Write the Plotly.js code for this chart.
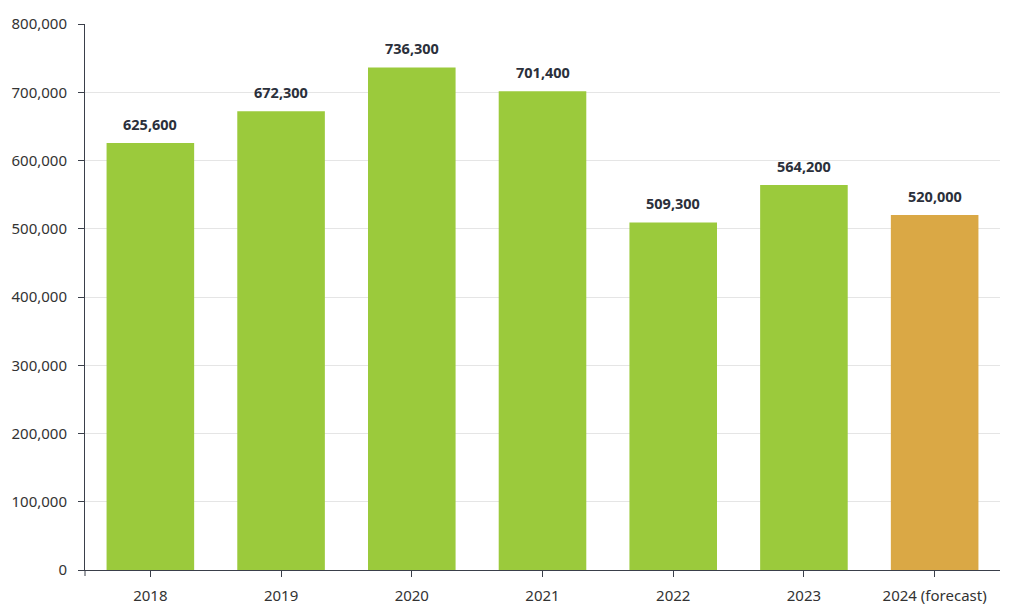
<!DOCTYPE html>
<html>
<head>
<meta charset="utf-8">
<script src="https://cdn.plot.ly/plotly-3.0.1.min.js"></script>
<style>html,body{margin:0;padding:0;background:#fff;}#chart{width:1024px;height:610px;}</style>
</head>
<body>
<div id="chart"></div>
<script>
const years = ["2018", "2019", "2020", "2021", "2022", "2023", "2024 (forecast)"];
const values = [625600, 672300, 736300, 701400, 509300, 564200, 520000];
const barColors = ["#9bca3c", "#9bca3c", "#9bca3c", "#9bca3c", "#9bca3c", "#9bca3c", "#daa845"];
const yTicks = [0, 100000, 200000, 300000, 400000, 500000, 600000, 700000, 800000];

const fontFam = "'Noto Sans', 'Open Sans', sans-serif";

const trace = {
  type: "bar",
  x: years,
  y: values,
  marker: {color: barColors, line: {width: 0}},
  hoverinfo: "x+y"
};

const annotations = years.map((yr, i) => ({
  x: i, y: values[i], xref: "x", yref: "y",
  text: "<b>" + values[i].toLocaleString("en-US") + "</b>",
  showarrow: false, yanchor: "bottom", yshift: 7,
  font: {family: fontFam, size: 14.5, color: "#2b303b"}
}));

const layout = {
  width: 1024, height: 610,
  margin: {l: 85, r: 24, t: 24, b: 40},
  paper_bgcolor: "#fff", plot_bgcolor: "#fff",
  bargap: 0.33,
  showlegend: false,
  font: {family: fontFam, size: 15, color: "#333"},
  xaxis: {
    type: "category",
    range: [-0.5, years.length - 0.5],
    showline: true, linecolor: "#3a3f4a", linewidth: 1,
    ticks: "outside", ticklen: 6, tickcolor: "#3a3f4a",
    ticklabelstandoff: 6,
    tickfont: {family: fontFam, size: 15, color: "#333"},
    showgrid: false, zeroline: false
  },
  yaxis: {
    range: [0, 800000],
    tickvals: yTicks,
    ticktext: yTicks.map(v => v.toLocaleString("en-US")),
    showline: true, linecolor: "#3a3f4a", linewidth: 1,
    ticks: "outside", ticklen: 6, tickcolor: "#3a3f4a",
    ticklabelstandoff: 8,
    showgrid: true, gridcolor: "rgba(0,0,0,0.1)", gridwidth: 1,
    zeroline: false,
    layer: "above traces",
    tickfont: {family: fontFam, size: 15, color: "#333"}
  },
  shapes: [{
    type: "line", xref: "paper", yref: "paper",
    x0: 0, x1: 0, y0: 0, y1: -6 / 546,
    line: {color: "#3a3f4a", width: 1}
  }],
  annotations: annotations
};

Plotly.newPlot("chart", [trace], layout, {displayModeBar: false, responsive: false});
</script>
</body>
</html>
